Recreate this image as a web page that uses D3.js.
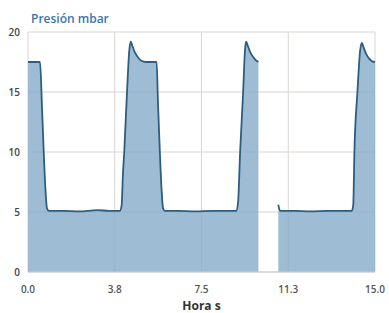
<!DOCTYPE html>
<html>
<head>
<meta charset="utf-8">
<script src="https://cdn.jsdelivr.net/npm/d3@7"></script>
<style>
  body { margin: 0; background: #fff; }
  text { font-family: "Open Sans", sans-serif; }
</style>
</head>
<body>
<svg id="chart"></svg>
<script>
// time (s) and pressure (mbar), null = no data
const times = [0, 0.3, 0.52, 0.6, 0.68, 0.75, 0.82, 0.9, 1.5, 2.2, 3.0, 3.5, 3.97,
  4.05, 4.1, 4.16, 4.28, 4.38, 4.44, 4.52, 4.62, 4.75, 4.9, 5.1, 5.5,
  5.56, 5.62, 5.7, 5.77, 5.84, 5.92, 6.5, 7.2, 8.0, 8.6, 9.0,
  9.08, 9.17, 9.3, 9.38, 9.43, 9.51, 9.61, 9.74, 9.88, 9.96, 9.97,
  10.81, 10.82, 10.9, 11.5, 12.2, 13.0, 13.6, 14.0,
  14.06, 14.11, 14.24, 14.36, 14.43, 14.51, 14.61, 14.74, 14.88, 15.0];
const pressure = [17.5, 17.5, 17.5, 14, 10, 7, 5.3, 5.1, 5.1, 5.05, 5.15, 5.1, 5.1,
  5.6, 8, 10, 15, 18.5, 19.2, 18.8, 18.3, 17.9, 17.6, 17.5, 17.5,
  17.5, 14, 10, 7, 5.3, 5.1, 5.1, 5.05, 5.1, 5.1, 5.1,
  5.8, 10, 15, 18.5, 19.2, 18.8, 18.3, 17.9, 17.6, 17.5, null,
  null, 5.6, 5.1, 5.1, 5.05, 5.1, 5.1, 5.1,
  5.6, 10, 15, 18.5, 19.1, 18.7, 18.2, 17.8, 17.55, 17.5];
const xTicks = [0, 3.75, 7.5, 11.25, 15];
const yTicks = [0, 5, 10, 15, 20];

const width = 389, height = 313;
const margin = { top: 32, right: 14, bottom: 41, left: 28 };

const data = times.map((t, i) => ({ t: t, v: pressure[i] }));

const svg = d3.select('#chart').attr('width', width).attr('height', height);

const x = d3.scaleLinear().domain([0, 15]).range([margin.left, width - margin.right]);
const y = d3.scaleLinear().domain([0, 20]).range([height - margin.bottom, margin.top]);

// grid
svg.append('g').selectAll('line').data(yTicks).join('line')
  .attr('x1', x(0)).attr('x2', x(15))
  .attr('y1', d => y(d)).attr('y2', d => y(d))
  .attr('stroke', '#d9d4d0').attr('stroke-width', 1);
svg.append('g').selectAll('line').data(xTicks).join('line')
  .attr('x1', d => x(d)).attr('x2', d => x(d))
  .attr('y1', y(0)).attr('y2', y(20))
  .attr('stroke', '#d9d4d0').attr('stroke-width', 1);

// area + line
const area = d3.area()
  .defined(d => d.v != null)
  .x(d => x(d.t)).y0(y(0)).y1(d => y(d.v))
  .curve(d3.curveMonotoneX);
const line = d3.line()
  .defined(d => d.v != null)
  .x(d => x(d.t)).y(d => y(d.v))
  .curve(d3.curveMonotoneX);

svg.append('path').attr('d', area(data))
  .attr('fill', '#86adca').attr('fill-opacity', 0.8);
svg.append('path').attr('d', line(data))
  .attr('fill', 'none').attr('stroke', '#2d5d80').attr('stroke-width', 1.8);

// bottom baseline
svg.append('line').attr('x1', x(0)).attr('x2', x(15))
  .attr('y1', y(0)).attr('y2', y(0))
  .attr('stroke', '#c9cfd4').attr('stroke-width', 1);

// tick labels
svg.append('g').selectAll('text').data(yTicks).join('text')
  .attr('x', 20).attr('y', d => y(d) + 4)
  .attr('text-anchor', 'end')
  .attr('font-size', 10).attr('font-weight', 600).attr('fill', '#444')
  .text(d => d);
svg.append('g').selectAll('text').data(xTicks).join('text')
  .attr('x', d => x(d)).attr('y', height - 20)
  .attr('text-anchor', 'middle')
  .attr('font-size', 10).attr('font-weight', 600).attr('fill', '#555')
  .text(d => d.toFixed(1));

// titles
svg.append('text').attr('x', 31).attr('y', 23)
  .attr('font-size', 12).attr('font-weight', 600).attr('fill', '#3a76ae')
  .text('Presión mbar');
svg.append('text').attr('x', x(7.5)).attr('y', height - 3)
  .attr('text-anchor', 'middle')
  .attr('font-size', 12).attr('font-weight', 700).attr('fill', '#333')
  .text('Hora s');
</script>
</body>
</html>
